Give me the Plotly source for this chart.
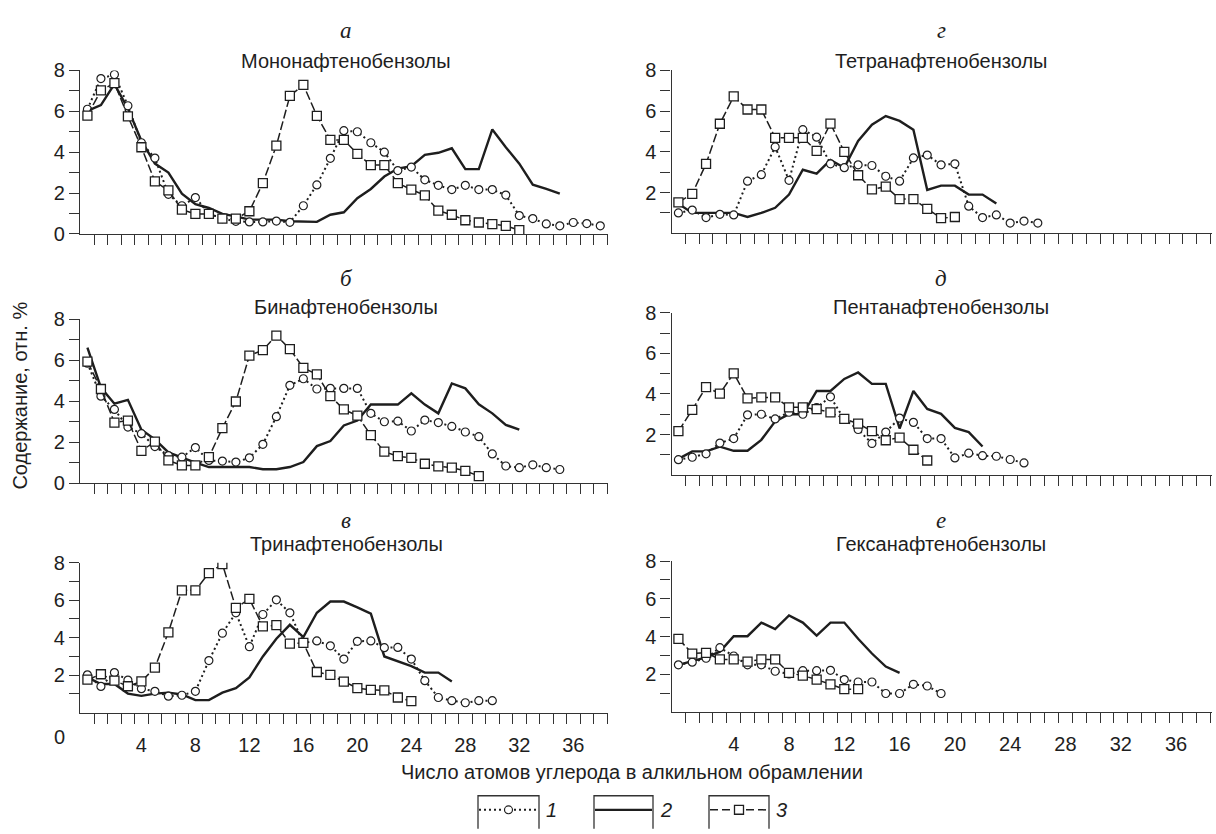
import plotly.graph_objects as go

W, H = 1216, 834

# ---------------- data ----------------
# series 1 = dotted / circles, series 2 = solid, series 3 = dashed / squares
mono_1 = [6.1, 7.6, 7.8, 6.27, 4.46, 3.71, 1.94, 1.38, 1.78, 1.0, 0.75, 0.62, 0.59, 0.59, 0.63, 0.57,
          1.38, 2.4, 3.7, 5.05, 5.0, 4.46, 4.0, 3.1, 3.27, 2.65, 2.38, 2.17, 2.38, 2.17, 2.17, 1.9,
          0.9, 0.75, 0.49, 0.4, 0.56, 0.51, 0.4]
mono_2 = [6.02, 6.3, 7.33, 6.14, 4.56, 3.44, 3.0, 1.97, 1.46, 1.27, 0.98, 0.86, 0.7, 0.7, 0.7, 0.62,
          0.59, 0.59, 0.94, 1.06, 1.75, 2.2, 2.81, 3.2, 3.32, 3.87, 3.97, 4.19, 3.17, 3.17, 5.11,
          4.24, 3.44, 2.41, 2.2, 1.97]
mono_3 = [5.79, 7.02, 7.38, 5.75, 4.24, 2.57, 2.13, 1.19, 0.98, 0.98, 0.75, 0.75, 1.11, 2.49, 4.32,
          6.75, 7.29, 5.78, 4.6, 4.6, 3.92, 3.37, 3.37, 2.49, 2.17, 1.89, 1.14, 0.94, 0.67, 0.56,
          0.48, 0.4, 0.19]

bi_1 = [5.86, 4.25, 3.6, 2.74, 2.42, 1.79, 1.35, 1.27, 1.74, 1.11, 1.08, 1.03, 1.24, 1.9, 3.25, 4.78,
        5.1, 4.6, 4.63, 4.63, 4.63, 3.41, 3.0, 3.03, 2.55, 3.08, 2.96, 2.77, 2.5, 2.27, 1.43, 0.84,
        0.76, 0.9, 0.76, 0.67]
bi_2 = [6.62, 4.67, 3.88, 4.07, 2.61, 2.14, 1.5, 1.25, 1.0, 0.79, 0.79, 0.79, 0.79, 0.68, 0.68, 0.79,
        1.03, 1.81, 2.06, 2.82, 3.06, 3.84, 3.84, 3.84, 4.39, 3.84, 3.41, 4.87, 4.63, 3.85, 3.41,
        2.85, 2.61]
bi_3 = [5.94, 4.6, 2.96, 3.06, 1.58, 2.03, 1.11, 0.87, 0.87, 1.27, 2.69, 3.99, 6.23, 6.5, 7.21, 6.55,
        5.63, 5.31, 4.25, 3.6, 3.3, 2.35, 1.54, 1.32, 1.24, 0.95, 0.82, 0.76, 0.6, 0.35]

tri_1 = [2.02, 1.4, 2.14, 1.74, 1.28, 1.14, 0.88, 0.93, 1.14, 2.78, 4.24, 5.33, 3.52, 5.24, 6.02, 5.33,
         3.72, 3.83, 3.57, 2.86, 3.81, 3.83, 3.47, 3.48, 2.86, 1.71, 0.81, 0.64, 0.53, 0.64, 0.64]
tri_2 = [1.88, 1.53, 1.53, 1.02, 0.9, 1.02, 1.07, 0.97, 0.67, 0.67, 1.07, 1.31, 1.88, 3.0, 3.95, 4.69,
         4.03, 5.33, 5.93, 5.93, 5.62, 5.29, 3.0, 2.75, 2.48, 2.14, 2.14, 1.67]
tri_3 = [1.76, 2.05, 1.71, 1.41, 1.67, 2.4, 4.29, 6.53, 6.53, 7.45, 7.93, 5.59, 6.07, 4.6, 4.67, 3.69,
         3.72, 2.17, 2.02, 1.66, 1.31, 1.22, 1.19, 0.81, 0.62]

tetra_1 = [1.0, 1.14, 0.77, 0.93, 0.9, 2.56, 2.88, 4.24, 2.6, 5.09, 4.72, 3.41, 3.22, 3.36, 3.33, 2.8,
           2.56, 3.7, 3.84, 3.36, 3.41, 1.33, 0.77, 0.9, 0.5, 0.6, 0.5]
tetra_2 = [1.45, 1.0, 1.0, 1.0, 1.0, 0.8, 1.0, 1.25, 1.9, 3.12, 2.93, 3.6, 3.22, 4.53, 5.33, 5.76,
           5.52, 5.09, 2.13, 2.34, 2.34, 1.9, 1.9, 1.46]
tetra_3 = [1.52, 1.94, 3.41, 5.38, 6.72, 6.08, 6.08, 4.69, 4.69, 4.69, 4.05, 5.39, 4.0, 2.85, 2.16,
           2.29, 1.68, 1.68, 1.2, 0.74, 0.8]

penta_1 = [0.76, 0.88, 1.05, 1.58, 1.8, 2.97, 3.0, 2.77, 3.1, 3.0, 3.33, 3.86, 2.75, 2.25, 1.56, 2.12,
           2.81, 2.6, 1.8, 1.8, 0.85, 1.08, 0.96, 0.93, 0.77, 0.6]
penta_2 = [0.8, 1.17, 1.17, 1.4, 1.2, 1.2, 1.74, 2.65, 3.0, 3.0, 4.15, 4.15, 4.74, 5.06, 4.5, 4.5,
           2.3, 4.15, 3.26, 3.02, 2.33, 2.12, 1.41]
penta_3 = [2.17, 3.22, 4.34, 4.02, 5.02, 3.78, 3.83, 3.83, 3.34, 3.34, 3.25, 3.09, 2.77, 2.54, 2.17,
           1.72, 1.85, 1.25, 0.72]

hexa_1 = [2.5, 2.64, 2.85, 3.41, 2.97, 2.5, 2.5, 2.16, 2.02, 2.19, 2.19, 2.21, 1.72, 1.59, 1.59, 0.98,
          0.98, 1.47, 1.38, 0.98]
hexa_2 = [2.5, 2.72, 2.9, 3.2, 4.02, 4.02, 4.74, 4.4, 5.12, 4.74, 4.05, 4.74, 4.74, 3.88, 3.1, 2.41, 2.07]
hexa_3 = [3.88, 3.1, 3.14, 2.79, 2.79, 2.67, 2.79, 2.79, 2.07, 1.93, 1.72, 1.47, 1.21, 1.21]

panel_letters = ["а", "б", "в", "г", "д", "е"]
panel_titles = ["Мононафтенобензолы", "Бинафтенобензолы", "Тринафтенобензолы",
                "Тетранафтенобензолы", "Пентанафтенобензолы", "Гексанафтенобензолы"]
panel_series = [(mono_1, mono_2, mono_3), (bi_1, bi_2, bi_3), (tri_1, tri_2, tri_3),
                (tetra_1, tetra_2, tetra_3), (penta_1, penta_2, penta_3), (hexa_1, hexa_2, hexa_3)]
x_tick_vals = [4, 8, 12, 16, 20, 24, 28, 32, 36]
x_tick_text = ["4", "8", "12", "16", "20", "24", "28", "32", "36"]
legend_labels = ["1", "2", "3"]
y_title = "Содержание, отн. %"
x_title = "Число атомов углерода в алкильном обрамлении"

# ---------------- layout geometry (pixels) ----------------
SANS = "Liberation Sans, Arial, sans-serif"
SERIF = "Liberation Serif, Times New Roman, serif"
INK = "#1e1e1e"
AX = "#333333"
FS = 20


def fx(p):
    return p / W


def fy(p):
    return 1 - p / H


# column: (x_left_px, x_right_px, range_lo, range_hi)
COLS = [(80, 607.7, -0.55, 38.55), (671.5, 1212, -0.5, 38.6)]
# panel: (col, y_top_px (value 8), y_bottom_px (value 0))
PANELS = [(0, 61, 229), (0, 316.7, 485), (0, 566.7, 720.7),
          (1, 61, 228.3), (1, 310, 476.7), (1, 565, 720)]
LETTER_Y = [20, 275, 523]
TITLE_Y = [51, 304, 547]
COL_CENTER = [346, 941]

fig = go.Figure()
layout = dict(width=W, height=H, margin=dict(l=0, r=0, t=0, b=0),
              plot_bgcolor="white", paper_bgcolor="white", showlegend=False,
              font=dict(family=SANS, size=FS, color=INK))
annotations = []
shapes = []

for i, (col, ytop, ybot) in enumerate(PANELS):
    n = i + 1
    xa = "x" if n == 1 else f"x{n}"
    ya = "y" if n == 1 else f"y{n}"
    xl, xr, lo, hi = COLS[col]
    bottom = (i % 3 == 2)
    s1, s2, s3 = panel_series[i]

    fig.add_trace(go.Scatter(x=list(range(len(s2))), y=s2, xaxis=xa, yaxis=ya, mode="lines",
                             line=dict(color=INK, width=2.4), hoverinfo="skip"))
    fig.add_trace(go.Scatter(x=list(range(len(s1))), y=s1, xaxis=xa, yaxis=ya, mode="lines+markers",
                             line=dict(color=INK, width=2, dash="2px,3px"),
                             marker=dict(symbol="circle", size=8, color="white",
                                         line=dict(color=INK, width=1.2)), hoverinfo="skip"))
    fig.add_trace(go.Scatter(x=list(range(len(s3))), y=s3, xaxis=xa, yaxis=ya, mode="lines+markers",
                             line=dict(color=INK, width=1.5, dash="9px,3px"),
                             marker=dict(symbol="square", size=9, color="white",
                                         line=dict(color=INK, width=1.3)), hoverinfo="skip"))

    xkey = "xaxis" if n == 1 else f"xaxis{n}"
    ykey = "yaxis" if n == 1 else f"yaxis{n}"
    layout[xkey] = dict(domain=[fx(xl), fx(xr)], range=[lo, hi], anchor=ya,
                        showline=True, linecolor=AX, linewidth=1.3, mirror=False,
                        showgrid=False, zeroline=False, ticks="",
                        tickmode="array", tickvals=x_tick_vals, ticktext=x_tick_text,
                        showticklabels=bottom, ticklabelstandoff=14,
                        tickfont=dict(family=SANS, size=FS, color=INK),
                        minor=dict(tickmode="array",
                                   tickvals=[k + 0.5 for k in range(int(hi) + 1)],
                                   ticks="outside", ticklen=10, tickwidth=1.2,
                                   tickcolor=AX, showgrid=False))
    yt = [0, 2, 4, 6, 8] if (col == 0 and not bottom) else [2, 4, 6, 8]
    layout[ykey] = dict(domain=[fy(ybot), fy(ytop)], range=[0, 8], anchor=xa,
                        showline=True, linecolor=AX, linewidth=1.3,
                        showgrid=False, zeroline=False,
                        ticks="outside", ticklen=10, tickwidth=1.2, tickcolor=AX,
                        tickmode="array", tickvals=yt, ticktext=[str(v) for v in yt],
                        tickfont=dict(family=SANS, size=FS, color=INK),
                        minor=dict(tickmode="array", tickvals=[1, 3, 5, 7], ticks="outside",
                                   ticklen=10, tickwidth=1.2, tickcolor=AX, showgrid=False))

    row = i % 3
    annotations.append(dict(x=fx(COL_CENTER[col]), y=fy(LETTER_Y[row]), xref="paper", yref="paper",
                            text=f"<i>{panel_letters[i]}</i>", showarrow=False,
                            font=dict(family=SERIF, size=23, color=INK),
                            xanchor="center", yanchor="middle"))
    annotations.append(dict(x=fx(COL_CENTER[col]), y=fy(TITLE_Y[row]), xref="paper", yref="paper",
                            text=panel_titles[i], showarrow=False,
                            font=dict(family=SANS, size=FS, color=INK),
                            xanchor="center", yanchor="middle"))

# origin "0" at the bottom-left corner
annotations.append(dict(x=fx(59), y=fy(746), xref="paper", yref="paper", text="0", showarrow=False,
                        font=dict(family=SANS, size=FS, color=INK), xanchor="center", yanchor="middle"))
# axis titles
annotations.append(dict(x=fx(632), y=fy(782), xref="paper", yref="paper", text=x_title,
                        showarrow=False, font=dict(family=SANS, size=FS, color=INK),
                        xanchor="center", yanchor="middle"))
annotations.append(dict(x=fx(20), y=fy(395), xref="paper", yref="paper", text=y_title,
                        showarrow=False, textangle=-90, font=dict(family=SANS, size=FS, color=INK),
                        xanchor="center", yanchor="middle"))

# ---------------- hand-drawn style legend ----------------
LEG_BOXES = [(478, 539), (594, 653), (709, 769)]
LEG_TOP, LEG_MID, LEG_BOT = 806, 820.5, 840
leg_dash = ["2px,3px", "solid", "8px,4px"]
leg_width = [2, 2.4, 1.5]
for j, (x0, x1) in enumerate(LEG_BOXES):
    shapes.append(dict(type="path", xref="paper", yref="paper",
                       path=f"M {fx(x0)},{fy(LEG_BOT)} L {fx(x0)},{fy(LEG_TOP)} "
                            f"L {fx(x1)},{fy(LEG_TOP)} L {fx(x1)},{fy(LEG_BOT)}",
                       line=dict(color=AX, width=1.3)))
    shapes.append(dict(type="line", xref="paper", yref="paper",
                       x0=fx(x0 + 1), x1=fx(x1 - 1), y0=fy(LEG_MID), y1=fy(LEG_MID),
                       line=dict(color=INK, width=leg_width[j], dash=leg_dash[j])))
    xc = (x0 + x1) / 2
    if j == 0:
        shapes.append(dict(type="circle", xref="paper", yref="paper",
                           x0=fx(xc - 4), x1=fx(xc + 4), y0=fy(LEG_MID + 4), y1=fy(LEG_MID - 4),
                           fillcolor="white", line=dict(color=INK, width=1.2)))
    if j == 2:
        shapes.append(dict(type="rect", xref="paper", yref="paper",
                           x0=fx(xc - 4.5), x1=fx(xc + 4.5), y0=fy(LEG_MID + 4.5), y1=fy(LEG_MID - 4.5),
                           fillcolor="white", line=dict(color=INK, width=1.3)))
    annotations.append(dict(x=fx(x1 + 5), y=fy(LEG_MID), xref="paper", yref="paper",
                            text=f"<i>{legend_labels[j]}</i>", showarrow=False,
                            font=dict(family=SANS, size=FS, color=INK),
                            xanchor="left", yanchor="middle"))

layout["annotations"] = annotations
layout["shapes"] = shapes
fig.update_layout(**layout)
fig.write_html("out.html")
